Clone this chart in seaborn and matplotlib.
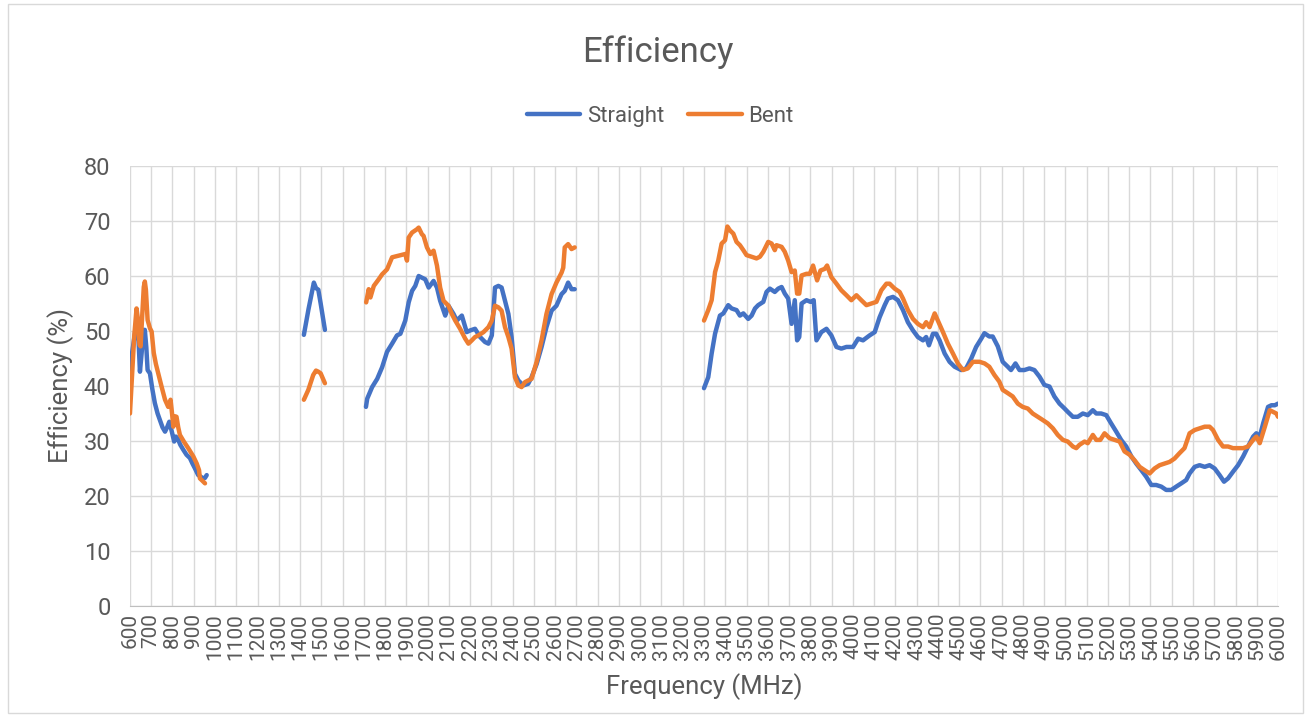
import numpy as np
import pandas as pd
import seaborn as sns
import matplotlib
matplotlib.use('Agg')
import matplotlib.pyplot as plt
from matplotlib.patches import Rectangle

# None marks a gap between measured bands
straight_freq = [600, 610, 625, 636, 642, 647, 655, 663, 670, 677, 683, 694, 705, 717, 730, 741, 753, 765, 775,
                 785, 795, 808, 816, 824, 837, 851, 866, 882, 894, 906, 921, 933, 945, 953, 961, None,
                 1418, 1440, 1465, 1475, 1486, 1497, 1517, None,
                 1710, 1716, 1739, 1763, 1786, 1809, 1833, 1856, 1872, 1895, 1911, 1927, 1942, 1958, 1973, 1989,
                 2005, 2028, 2044, 2059, 2075, 2083, 2098, 2122, 2137, 2161, 2184, 2200, 2223, 2247, 2270, 2286,
                 2302, 2317, 2333, 2348, 2364, 2380, 2395, 2411, 2427, 2450, 2473, 2489, 2513, 2536, 2559, 2583,
                 2606, 2630, 2645, 2661, 2677, 2692, None,
                 3300, 3320, 3336, 3352, 3375, 3391, 3414, 3430, 3453, 3469, 3485, 3508, 3524, 3540, 3555, 3579,
                 3594, 3610, 3633, 3649, 3665, 3680, 3696, 3712, 3727, 3738, 3748, 3759, 3782, 3801, 3816, 3829,
                 3852, 3876, 3899, 3923, 3946, 3970, 4001, 4025, 4048, 4079, 4103, 4126, 4150, 4165, 4189, 4212,
                 4236, 4259, 4283, 4306, 4330, 4345, 4358, 4377, 4392, 4408, 4432, 4455, 4479, 4510, 4533, 4557,
                 4580, 4604, 4619, 4642, 4658, 4682, 4705, 4729, 4744, 4765, 4784, 4807, 4831, 4854, 4878, 4901,
                 4925, 4948, 4972, 4996, 5011, 5035, 5058, 5082, 5105, 5129, 5145, 5168, 5192, 5215, 5239, 5262,
                 5286, 5310, 5333, 5357, 5380, 5404, 5427, 5451, 5474, 5498, 5521, 5545, 5568, 5584, 5608, 5631,
                 5655, 5678, 5702, 5725, 5746, 5765, 5788, 5812, 5836, 5859, 5883, 5898, 5914, 5930, 5953, 5969,
                 5985, 6000]
straight_eff = [43, 46, 50, 51.4, 47, 42.6, 46, 50.2, 50.2, 47, 42.9, 42.3, 39.5, 36.9, 35, 33.8, 32.5, 31.7, 32.5,
                33.5, 32, 29.9, 30.8, 30.5, 29.3, 28.4, 27.5, 26.9, 25.9, 25, 23.8, 23.5, 23.2, 23.3, 23.8, None,
                49.3, 54, 58.8, 57.8, 57.5, 55, 50.2, None,
                36.2, 37.7, 39.8, 41.3, 43.4, 46.2, 47.7, 49.2, 49.5, 51.9, 55.2, 57.3, 58.2, 60.0, 59.7, 59.4,
                57.9, 59.1, 57.9, 55.5, 53.7, 52.8, 54.6, 53.1, 51.9, 52.8, 49.8, 50.1, 50.4, 48.9, 48.0, 47.7,
                49.2, 57.9, 58.2, 57.9, 55.5, 53.1, 48.9, 42.2, 41.0, 40.1, 40.4, 41.6, 44.0, 47.1, 50.7, 53.7,
                54.6, 56.7, 57.3, 58.8, 57.6, 57.6, None,
                39.6, 41.6, 45.9, 49.5, 52.8, 53.2, 54.7, 54.1, 53.8, 52.8, 53.2, 52.2, 52.8, 54.1, 54.7, 55.3,
                57.1, 57.7, 57.1, 57.7, 58.0, 56.8, 55.9, 51.3, 55.6, 48.3, 48.9, 55.0, 55.6, 55.3, 55.6, 48.3,
                49.8, 50.4, 49.2, 47.1, 46.8, 47.1, 47.1, 48.6, 48.3, 49.2, 49.8, 52.5, 54.7, 55.9, 56.2, 55.6,
                53.8, 51.6, 50.1, 48.9, 48.3, 48.9, 47.4, 49.5, 49.5, 48.3, 45.9, 44.4, 43.5, 42.9, 43.2, 45.0,
                47.1, 48.6, 49.6, 49.0, 49.0, 47.2, 44.4, 43.5, 42.9, 44.1, 42.9, 42.9, 43.2, 42.9, 41.7, 40.2,
                39.9, 38.1, 36.8, 35.9, 35.3, 34.4, 34.4, 35.0, 34.7, 35.6, 35.0, 35.0, 34.7, 33.2, 31.7, 30.2,
                29.0, 27.2, 25.9, 24.7, 23.5, 22.0, 22.0, 21.7, 21.1, 21.1, 21.7, 22.3, 22.9, 24.1, 25.3, 25.6,
                25.3, 25.6, 25.0, 23.8, 22.6, 23.2, 24.4, 25.6, 27.2, 29.0, 30.8, 31.4, 30.8, 33.2, 36.2, 36.5,
                36.5, 36.8]

bent_freq = [600, 610, 620, 631, 638, 645, 650, 658, 665, 670, 675, 683, 694, 702, 712, 722, 733, 748, 765, 780,
             791, 798, 804, 812, 819, 827, 835, 855, 874, 898, 914, 925, 929, 940, 953, None,
             1418, 1439, 1462, 1475, 1486, 1497, 1517, None,
             1711, 1723, 1731, 1747, 1770, 1786, 1809, 1833, 1864, 1895, 1903, 1911, 1927, 1950, 1958, 1973,
             1981, 1997, 2013, 2028, 2044, 2059, 2075, 2098, 2114, 2130, 2153, 2177, 2192, 2208, 2223, 2239,
             2263, 2286, 2302, 2317, 2333, 2348, 2364, 2380, 2395, 2411, 2427, 2442, 2458, 2473, 2489, 2513,
             2536, 2559, 2583, 2606, 2630, 2638, 2645, 2661, 2677, 2692, None,
             3300, 3320, 3336, 3352, 3367, 3383, 3399, 3410, 3422, 3438, 3453, 3469, 3485, 3500, 3524, 3547,
             3563, 3579, 3602, 3618, 3633, 3641, 3665, 3680, 3696, 3712, 3727, 3738, 3748, 3759, 3782, 3798,
             3813, 3832, 3848, 3868, 3879, 3899, 3923, 3946, 3970, 3993, 4017, 4040, 4064, 4087, 4111, 4134,
             4158, 4173, 4197, 4220, 4236, 4259, 4283, 4306, 4330, 4345, 4361, 4385, 4400, 4424, 4447, 4471,
             4494, 4518, 4541, 4565, 4596, 4620, 4642, 4666, 4689, 4705, 4729, 4752, 4776, 4799, 4823, 4846,
             4870, 4894, 4917, 4941, 4964, 4988, 5011, 5035, 5051, 5066, 5090, 5105, 5129, 5145, 5164, 5184,
             5208, 5231, 5255, 5278, 5302, 5325, 5349, 5372, 5396, 5419, 5443, 5466, 5490, 5513, 5537, 5560,
             5584, 5608, 5631, 5655, 5678, 5694, 5718, 5741, 5765, 5788, 5812, 5836, 5859, 5883, 5898, 5914,
             5938, 5961, 5977, 5992, 6000]
bent_eff = [35, 42, 49, 54.1, 52, 47.5, 47.2, 53, 58, 59, 57.5, 52, 50.5, 49.9, 46, 44, 42.3, 40, 37.5, 36.2,
            37.5, 35, 32.6, 34.5, 34.4, 32.5, 31.1, 29.8, 28.7, 27.2, 25.9, 24.7, 23.2, 22.8, 22.3, None,
            37.5, 39.3, 42.0, 42.8, 42.6, 42.3, 40.5, None,
            55.2, 57.6, 56.1, 58.2, 59.4, 60.3, 61.2, 63.4, 63.7, 64.0, 62.8, 67.0, 67.9, 68.5, 68.8, 67.6,
            67.3, 65.2, 64.0, 64.6, 61.9, 57.9, 55.5, 54.6, 53.1, 51.9, 50.4, 48.6, 47.7, 48.3, 48.9, 49.2,
            49.8, 50.7, 51.9, 54.6, 54.3, 53.7, 50.7, 48.9, 46.8, 41.6, 40.1, 39.8, 40.7, 41.0, 41.3, 44.4,
            48.3, 53.1, 56.7, 58.8, 60.6, 61.5, 65.2, 65.8, 64.9, 65.2, None,
            51.9, 53.8, 55.6, 60.7, 62.8, 65.9, 66.5, 69.0, 68.3, 67.7, 66.2, 65.6, 64.7, 63.8, 63.5, 63.2,
            63.5, 64.4, 66.2, 65.9, 64.7, 65.6, 65.3, 64.4, 62.8, 60.7, 61.0, 56.8, 56.8, 60.1, 60.4, 60.4,
            61.9, 59.2, 61.0, 61.3, 61.9, 59.8, 58.6, 57.4, 56.5, 55.6, 56.5, 55.6, 54.7, 55.0, 55.3, 57.4,
            58.6, 58.6, 57.7, 57.1, 55.9, 53.8, 52.2, 51.3, 50.7, 51.6, 50.7, 53.2, 51.9, 49.8, 47.7, 45.9,
            44.1, 42.9, 43.2, 44.4, 44.4, 44.1, 43.5, 42.0, 40.8, 39.3, 38.7, 38.1, 36.8, 36.2, 35.9, 35.0,
            34.4, 33.8, 33.2, 32.3, 31.1, 30.2, 29.9, 29.0, 28.7, 29.3, 29.9, 29.6, 31.1, 30.2, 30.2, 31.4,
            30.5, 30.2, 29.9, 28.1, 27.5, 26.5, 25.3, 24.7, 24.1, 25.0, 25.6, 25.9, 26.2, 26.8, 27.8, 28.7,
            31.4, 32.0, 32.3, 32.6, 32.6, 32.0, 30.2, 29.0, 29.0, 28.7, 28.7, 28.7, 29.0, 30.2, 30.8, 29.6,
            32.6, 35.6, 35.3, 35.0, 34.4]

x_ticks = list(range(600, 6001, 100))
y_ticks = list(range(0, 81, 10))


def to_frame(freq, eff, name):
    rows = []
    seg = 0
    for f, e in zip(freq, eff):
        if f is None:
            seg += 1
            continue
        rows.append((f, e, name, seg))
    return pd.DataFrame(rows, columns=['freq', 'eff', 'series', 'segment'])


df = pd.concat([to_frame(straight_freq, straight_eff, 'Straight'),
                to_frame(bent_freq, bent_eff, 'Bent')], ignore_index=True)

sns.set_style('white')
plt.rcParams['font.family'] = ['Roboto', 'DejaVu Sans']
text_color = '#595959'
lw = 3.2

fig = plt.figure(figsize=(13.1, 7.18), dpi=100)
ax = fig.add_axes([0.0992, 0.156, 0.8764, 0.6128])

sns.lineplot(data=df, x='freq', y='eff', hue='series', units='segment', estimator=None,
             palette={'Straight': '#4472C4', 'Bent': '#ED7D31'}, linewidth=lw, ax=ax, legend=False)

ax.set_xlim(600, 6000)
ax.set_ylim(0, 80)
ax.set_xticks(x_ticks)
ax.set_xticklabels([str(t) for t in x_ticks], rotation=90, fontsize=15, color=text_color)
ax.set_yticks(y_ticks)
ax.set_yticklabels([str(t) for t in y_ticks], fontsize=17, color=text_color)
ax.tick_params(axis='y', length=0, pad=14)
ax.tick_params(axis='x', length=0, pad=5)
ax.grid(True, color='#D9D9D9', linewidth=1)
ax.set_axisbelow(True)
for s in ['top', 'right', 'left']:
    ax.spines[s].set_visible(False)
ax.spines['bottom'].set_color('#BFBFBF')
ax.set_xlabel('Frequency (MHz)', fontsize=18.5, color=text_color, labelpad=10)
ax.set_ylabel('Efficiency (%)', fontsize=18.5, color=text_color, labelpad=7)

fig.text(0.502, 0.928, 'Efficiency', ha='center', va='center', fontsize=25, color=text_color)

handles = [plt.Line2D([], [], color='#4472C4', lw=lw), plt.Line2D([], [], color='#ED7D31', lw=lw)]
fig.legend(handles, ['Straight', 'Bent'], loc='center', bbox_to_anchor=(0.504, 0.838), ncol=2,
           frameon=False, fontsize=16, labelcolor=text_color, handlelength=2.4, columnspacing=1.1,
           handletextpad=0.3)

fig.patches.append(Rectangle((0.006, 0.007), 0.989, 0.988, transform=fig.transFigure,
                             fill=False, edgecolor='#D9D9D9', linewidth=1))

fig.savefig('out.png', dpi=100)
print("Saved: out.png")
